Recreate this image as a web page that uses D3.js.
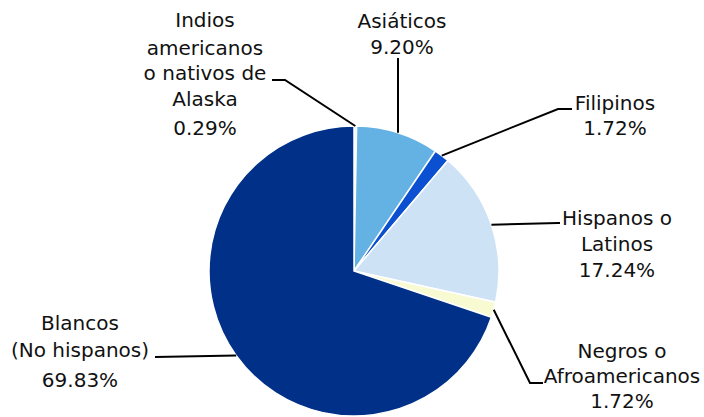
<!DOCTYPE html>
<html>
<head>
<meta charset="utf-8">
<script src="https://cdn.jsdelivr.net/npm/d3@7"></script>
<style>
    html, body { margin: 0; padding: 0; background: #fff; }
    svg text { font-family: "DejaVu Sans", sans-serif; font-size: 20px; fill: #111; }
</style>
</head>
<body>
<div id="grafico"></div>
<script>
// datos del gráfico (orden horario desde arriba)
const categorias = ["Indios", "Asiáticos", "Filipinos", "Hispanos", "Negros", "Blancos"];
const valores = [0.29, 9.20, 1.72, 17.24, 1.72, 69.83];
const etiquetas = [
    ["Indios", "americanos", "o nativos de", "Alaska", "0.29%"],
    ["Asiáticos", "9.20%"],
    ["Filipinos", "1.72%"],
    ["Hispanos o", "Latinos", "17.24%"],
    ["Negros o", "Afroamericanos", "1.72%"],
    ["Blancos", "(No hispanos)", "69.83%"]
];
const colores = ["#eaf4e4", "#64b1e4", "#0a50d0", "#cee2f5", "#f8fad2", "#003087"];

// posición de cada etiqueta: centro x, líneas base, codo y final de la línea guía
const layout = [
    { x: 205, ys: [27, 55, 80, 106, 135], codo: [285, 80], fin: [272, 80] },
    { x: 402, ys: [28, 54], codo: null, fin: [398, 58] },
    { x: 615, ys: [110, 135], codo: [558, 109], fin: [572, 109] },
    { x: 617, ys: [225, 251, 277], codo: [558, 223], fin: [560, 223] },
    { x: 622, ys: [358, 383, 408], codo: [530, 383], fin: [543, 383] },
    { x: 80, ys: [330, 357, 387], codo: null, fin: [155, 357] }
];

const width = 704;
const height = 417;
const cx = 354;
const cy = 271;
const radius = 145;

const svg = d3.select('#grafico')
    .append('svg')
    .attr('width', width)
    .attr('height', height);

const g = svg.append('g')
    .attr('transform', `translate(${cx}, ${cy})`);

const pie = d3.pie().sort(null).value(d => d);
const arcs = pie(valores);

const arc = d3.arc().innerRadius(0).outerRadius(radius);
const edge = d3.arc().innerRadius(radius).outerRadius(radius);

g.selectAll('path')
    .data(arcs)
    .enter()
    .append('path')
    .attr('d', arc)
    .attr('fill', (d, i) => colores[i])
    .attr('stroke', '#fff')
    .attr('stroke-width', 1.5);

// líneas guía
arcs.forEach((d, i) => {
    const a = (d.startAngle + d.endAngle) / 2;
    const p0 = [cx + radius * Math.sin(a), cy - radius * Math.cos(a)];
    const L = layout[i];
    let pts = [p0];
    if (L.codo) pts.push(L.codo);
    if (i === 1) pts = [[L.fin[0], p0[1]]];
    pts.push(L.fin);
    svg.append('path')
        .attr('d', d3.line()(pts))
        .attr('fill', 'none')
        .attr('stroke', '#000')
        .attr('stroke-width', 2);
});

// textos
etiquetas.forEach((lineas, i) => {
    const L = layout[i];
    svg.append('text')
        .attr('text-anchor', 'middle')
        .selectAll('tspan')
        .data(lineas)
        .enter()
        .append('tspan')
        .attr('x', L.x)
        .attr('y', (t, j) => L.ys[j])
        .text(t => t);
});
</script>
</body>
</html>
